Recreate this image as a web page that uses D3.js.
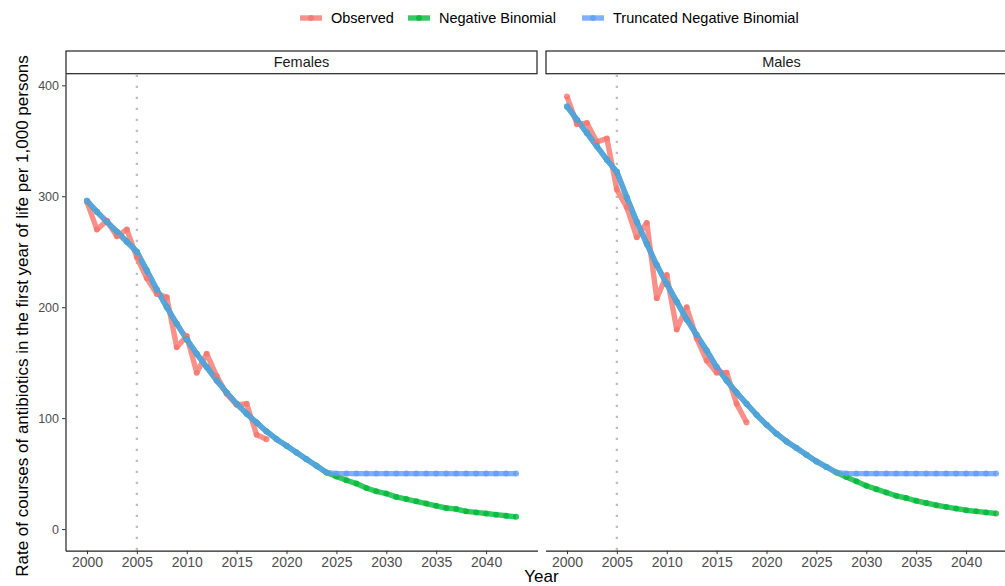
<!DOCTYPE html>
<html>
<head>
<meta charset="utf-8">
<script src="https://cdn.jsdelivr.net/npm/d3@7"></script>
<style>
  body { margin: 0; background: #fff; }
  svg { display: block; font-family: "Liberation Sans", Arial, sans-serif; }
</style>
</head>
<body>
<div class="chart-container"></div>
<script>
// Data
const startYear = 2000;
const endYear = 2043;
const panels = ['Females', 'Males'];
const seriesNames = ['Observed', 'Negative Binomial', 'Truncated Negative Binomial'];
const seriesColors = ['#F8766D', '#00BA38', '#619CFF'];
const xTicks = [2000, 2005, 2010, 2015, 2020, 2025, 2030, 2035, 2040];
const yTicks = [0, 100, 200, 300, 400];
const cutYear = 2005;

// observed 2000-2018
const femalesObserved = [295, 270, 278, 264, 270, 245, 226, 212, 209, 164, 174, 141, 158, 138, 122, 112, 113, 85, 81];
const malesObserved = [390, 365, 366, 349, 352, 306, 290, 263, 276, 208, 229, 180, 200, 172, 152, 141, 141, 113, 96];

// model fits 2000-2043
const femalesNB = [296, 286, 277, 268, 259, 250, 233, 216, 200, 185,
    171, 158, 146, 134, 123, 113, 104, 96, 88, 81,
    75, 69, 63, 57, 51, 47.5, 44, 41, 37, 34,
    32, 29, 27, 25, 23, 21, 19, 18, 16, 15,
    14, 13, 12, 11];
const femalesTNB = [296, 286, 277, 268, 259, 250, 233, 216, 200, 185,
    171, 158, 146, 134, 123, 113, 104, 96, 88, 81,
    75, 69, 63, 57, 51, 50, 50, 50, 50, 50,
    50, 50, 50, 50, 50, 50, 50, 50, 50, 50,
    50, 50, 50, 50];
const malesNB = [381, 369, 357, 345, 333, 322, 299, 277, 257, 238,
    221, 205, 189, 175, 161, 146, 134, 123, 113, 103,
    94, 86, 79, 73, 67, 61, 56, 51, 47, 43,
    39, 36, 33, 30, 28, 25.5, 23.5, 21.5, 20, 18.5,
    17, 16, 15, 14];
const malesTNB = [381, 369, 357, 345, 333, 322, 299, 277, 257, 238,
    221, 205, 189, 175, 161, 146, 134, 123, 113, 103,
    94, 86, 79, 73, 67, 61, 56, 51, 50, 50,
    50, 50, 50, 50, 50, 50, 50, 50, 50, 50,
    50, 50, 50, 50];

const panelData = {
    Females: [femalesObserved, femalesNB, femalesTNB],
    Males: [malesObserved, malesNB, malesTNB]
};

// Layout
const W = 1005, H = 586;
const panelW = 472;
const panelGap = 8;
const panelLeft = 65.5;
const stripTop = 51, stripH = 22.7;
const panelTop = stripTop + stripH;
const panelBottom = 550.7;
const lineW = 5.4;
const dotR = 3;

const svg = d3.select('.chart-container')
    .append('svg')
    .attr('width', W)
    .attr('height', H);

// Scales (5% expansion like ggplot)
const x = d3.scaleLinear()
    .domain([startYear - 2.15, endYear + 2.15])
    .range([0, panelW]);

const y = d3.scaleLinear()
    .domain([-19.5, 410.5])
    .range([panelBottom - panelTop, 0]);

const line = d3.line()
    .x(d => x(d.year))
    .y(d => y(d.value));

const toPoints = arr => arr.map((v, i) => ({ year: startYear + i, value: v }));

panels.forEach((name, pi) => {
    const left = panelLeft + pi * (panelW + panelGap);
    const g = svg.append('g')
        .attr('transform', `translate(${left}, ${panelTop})`);

    // strip
    svg.append('rect')
        .attr('x', left + 0.5)
        .attr('y', stripTop)
        .attr('width', panelW - 1)
        .attr('height', stripH)
        .attr('fill', '#fff')
        .attr('stroke', '#222')
        .attr('stroke-width', 1.2);

    svg.append('text')
        .attr('x', left + panelW / 2)
        .attr('y', stripTop + stripH / 2 + 5)
        .attr('text-anchor', 'middle')
        .attr('font-size', '14.5px')
        .attr('fill', '#1a1a1a')
        .text(name);

    // vertical reference line
    g.append('line')
        .attr('x1', x(cutYear))
        .attr('x2', x(cutYear))
        .attr('y1', 1)
        .attr('y2', panelBottom - panelTop)
        .attr('stroke', '#bdbdbd')
        .attr('stroke-width', 2.2)
        .attr('stroke-dasharray', '2.2,8.8');

    const series = panelData[name].map(toPoints);

    // lines first, then points
    series.forEach((pts, si) => {
        g.append('path')
            .datum(pts)
            .attr('d', line)
            .attr('fill', 'none')
            .attr('stroke', seriesColors[si])
            .attr('stroke-width', lineW)
            .attr('stroke-linejoin', 'round')
            .attr('stroke-opacity', 0.8);
    });

    series.forEach((pts, si) => {
        g.selectAll(`.pt${si}`)
            .data(pts)
            .join('circle')
            .attr('class', `pt${si}`)
            .attr('cx', d => x(d.year))
            .attr('cy', d => y(d.value))
            .attr('r', dotR)
            .attr('fill', seriesColors[si])
            .attr('fill-opacity', 0.8);
    });

    // x axis
    const xAxis = g.append('g')
        .attr('transform', `translate(0, ${panelBottom - panelTop})`)
        .call(d3.axisBottom(x).tickValues(xTicks).tickFormat(d3.format('d')).tickSize(3.5).tickSizeOuter(0).tickPadding(3));

    xAxis.select('.domain').attr('stroke', '#222').attr('stroke-width', 1.2);
    xAxis.selectAll('.tick line').attr('stroke', '#333').attr('stroke-width', 1);
    xAxis.selectAll('.tick text')
        .attr('fill', '#4d4d4d')
        .attr('font-size', '14px')
        .attr('font-family', '"Liberation Sans", Arial, sans-serif');

    // y axis only on first panel
    if (pi === 0) {
        const yAxis = g.append('g')
            .call(d3.axisLeft(y).tickValues(yTicks).tickSize(3.5).tickSizeOuter(0).tickPadding(3));

        yAxis.select('.domain').attr('stroke', '#222').attr('stroke-width', 1.2);
        yAxis.selectAll('.tick line').attr('stroke', '#333').attr('stroke-width', 1);
        yAxis.selectAll('.tick text')
            .attr('fill', '#4d4d4d')
            .attr('font-size', '12.5px')
            .attr('font-family', '"Liberation Sans", Arial, sans-serif');
    }
});

// Axis titles
svg.append('text')
    .attr('transform', `translate(28, 316) rotate(-90)`)
    .attr('text-anchor', 'middle')
    .attr('font-size', '17px')
    .attr('fill', '#000')
    .text('Rate of courses of antibiotics in the first year of life per 1,000 persons');

svg.append('text')
    .attr('x', 541.5)
    .attr('y', 582)
    .attr('text-anchor', 'middle')
    .attr('font-size', '17px')
    .attr('fill', '#000')
    .text('Year');

// Legend
const legendX = [300, 408, 582];
const legend = svg.selectAll('.legend-item')
    .data(seriesNames)
    .join('g')
    .attr('class', 'legend-item')
    .attr('transform', (d, i) => `translate(${legendX[i]}, 18)`);

legend.append('line')
    .attr('x1', 0)
    .attr('x2', 22)
    .attr('stroke', (d, i) => seriesColors[i])
    .attr('stroke-width', lineW)
    .attr('stroke-opacity', 0.8);

legend.append('circle')
    .attr('cx', 11)
    .attr('r', dotR)
    .attr('fill', (d, i) => seriesColors[i])
    .attr('fill-opacity', 0.8);

legend.append('text')
    .attr('x', 31)
    .attr('y', 5)
    .attr('font-size', '14.5px')
    .attr('fill', '#000')
    .text(d => d);
</script>
</body>
</html>
